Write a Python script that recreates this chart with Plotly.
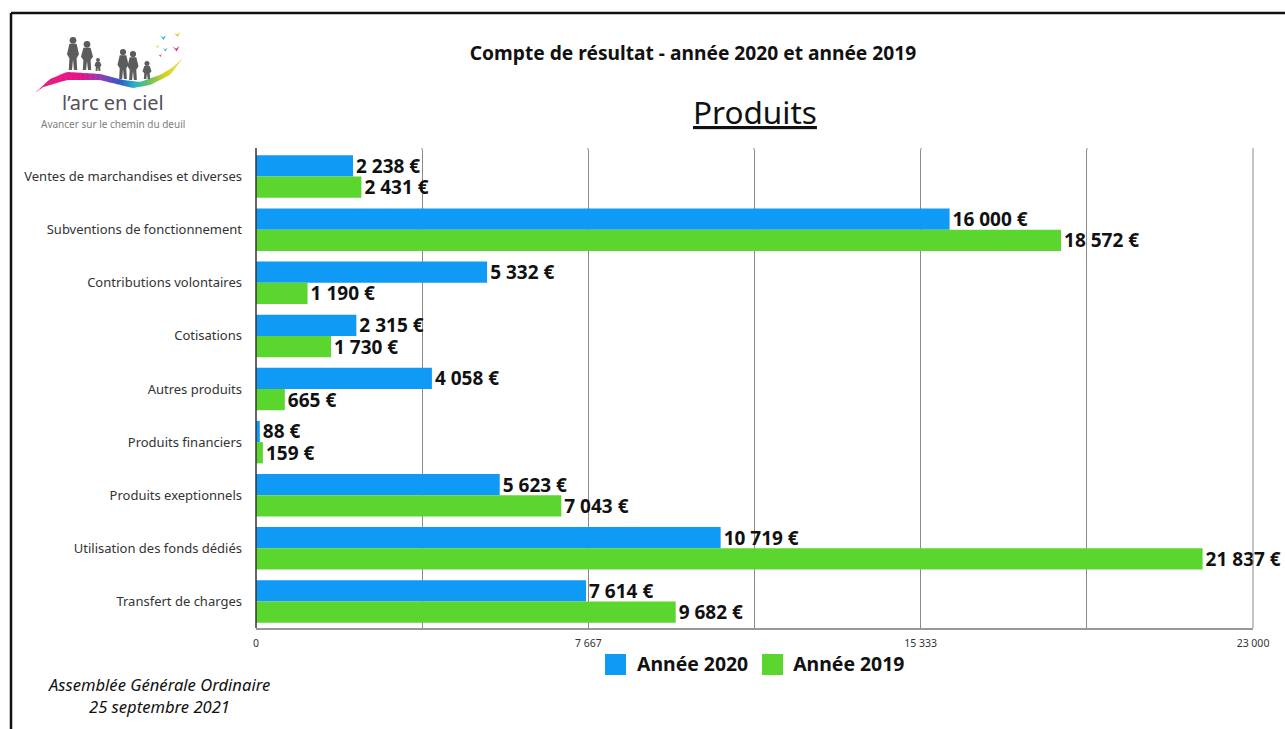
import numpy as np
import plotly.graph_objects as go

W, H = 1285, 729
L, R, T, B = 256, 1253, 150, 628

categories = ["Ventes de marchandises et diverses", "Subventions de fonctionnement",
              "Contributions volontaires", "Cotisations", "Autres produits",
              "Produits financiers", "Produits exeptionnels",
              "Utilisation des fonds dédiés", "Transfert de charges"]
values_2020 = [2238, 16000, 5332, 2315, 4058, 88, 5623, 10719, 7614]
values_2019 = [2431, 18572, 1190, 1730, 665, 159, 7043, 21837, 9682]
major_ticks = [0, 7667, 15333, 23000]
major_labels = ["0", "7 667", "15 333", "23 000"]
minor_ticks = [3833, 11500, 19167]

FONT = "Noto Sans"
INK = "#111111"
BLUE = "#0f9af5"
GREEN = "#5bd62f"
GRID = "#8a8a8a"


def euro(v):
    return f"{v:,}".replace(",", " ") + " €"


def px(x):
    return (x - L) / (R - L)


def py(y):
    return (B - y) / (B - T)


def bars(name, vals, color):
    return go.Bar(name=name, y=categories, x=vals, orientation="h",
                  marker=dict(color=color, line_width=0),
                  text=[euro(v) for v in vals], textposition="outside",
                  cliponaxis=False, constraintext="none",
                  textfont=dict(family=FONT, size=19, color=INK, weight="bold"))


fig = go.Figure([bars("Année 2020", values_2020, BLUE),
                 bars("Année 2019", values_2019, GREEN)])


def line(x0, y0, x1, y1, color="#111111", width=2):
    return dict(type="line", xref="paper", yref="paper", x0=px(x0), y0=py(y0),
                x1=px(x1), y1=py(y1), line=dict(color=color, width=width))


def rect(x0, y0, x1, y1, color):
    return dict(type="rect", xref="paper", yref="paper", x0=px(x0), y0=py(y0),
                x1=px(x1), y1=py(y1), fillcolor=color, line_width=0)


def poly(points, color):
    d = "M" + " L".join(f"{px(a)},{py(b)}" for a, b in points) + " Z"
    return dict(type="path", xref="paper", yref="paper", path=d, fillcolor=color, line_width=0)


# Logo: ribbon outline (decoration, not chart data)
upper_x = [35, 50, 67, 100, 123, 140, 160, 172, 183]
upper_y = [93, 79, 72, 74, 80, 82, 75, 68, 58]
lower_x = [35, 43, 67, 100, 133, 150, 170, 183]
lower_y = [93, 87, 80, 80, 88, 85, 75, 58]
stop_x = [35, 80, 100, 120, 135, 150, 165, 183]
stop_rgb = [(232, 30, 130), (232, 20, 135), (150, 60, 180), (50, 90, 200),
            (40, 180, 200), (110, 195, 90), (215, 210, 30), (235, 225, 90)]

shapes = [
    line(11, 13, 1285, 13, width=2.5),
    line(11, 13, 11, 729, width=2.5),
    line(L, 148, L, B, color="#333333", width=1.5),
    line(R, 148, R, B, color=GRID, width=1),
    line(422, 148, 422, T, color=GRID, width=1),
    line(588, 148, 588, T, color=GRID, width=1),
    line(754, 148, 754, T, color=GRID, width=1),
    line(921, 148, 921, T, color=GRID, width=1),
    line(1087, 148, 1087, T, color=GRID, width=1),
    rect(605, 654, 626, 675, BLUE),
    rect(762, 654, 783, 675, GREEN),
]

edges = np.linspace(35, 183, 60)
for a, b in zip(edges[:-1], edges[1:]):
    b2 = b + 0.6
    m = (a + b) / 2
    rgb = [int(np.interp(m, stop_x, [c[i] for c in stop_rgb])) for i in range(3)]
    shapes.append(poly([(a, np.interp(a, upper_x, upper_y)), (b2, np.interp(b2, upper_x, upper_y)),
                        (b2, np.interp(b2, lower_x, lower_y)), (a, np.interp(a, lower_x, lower_y))],
                       f"rgb({rgb[0]},{rgb[1]},{rgb[2]})"))


def person(x, top, foot, w, color="#5c5c5c"):
    r = w * 0.28
    head = dict(type="circle", xref="paper", yref="paper", fillcolor=color, line_width=0,
                x0=px(x - r), x1=px(x + r), y0=py(top), y1=py(top + 2 * r))
    neck = top + 2 * r
    h = foot - neck
    body = poly([(x - w * 0.3, neck), (x + w * 0.3, neck), (x + w * 0.5, neck + h * 0.4),
                 (x + w * 0.3, neck + h * 0.55), (x + w * 0.35, foot), (x + w * 0.08, foot),
                 (x, neck + h * 0.6), (x - w * 0.08, foot), (x - w * 0.35, foot),
                 (x - w * 0.3, neck + h * 0.55), (x - w * 0.5, neck + h * 0.4)], color)
    return [head, body]


for xp, top, foot, w in [(73, 37, 70, 12), (87, 41, 70, 12), (98, 58, 71, 7),
                         (123, 49, 79, 11), (133, 51, 80, 11), (147, 61, 79, 9)]:
    shapes += person(xp, top, foot, w)
for xb, yb, c, s in [(163, 37, "#35b0d8", 3), (177, 34, "#d8d020", 3), (176, 48, "#d8309a", 3.5),
                     (165, 49, "#35b0d8", 2.5), (157, 46, "#d8d020", 2), (160, 55, "#d8309a", 2)]:
    shapes.append(poly([(xb - s, yb - s * 0.5), (xb, yb + s * 0.2), (xb + s, yb - s * 0.6),
                        (xb + s * 0.2, yb + s)], c))


def note(text, x, y, size, color=INK, anchor="center", **kw):
    return dict(text=text, xref="paper", yref="paper", x=px(x), y=py(y), showarrow=False,
                xanchor=anchor, yanchor="middle",
                font=dict(family=FONT, size=size, color=color, **kw))


annotations = [
    note("<u>Produits</u>", 755, 112, 31.5),
    note("l’arc en ciel", 113, 103, 20, color="#55505a"),
    note("Avancer sur le chemin du deuil", 113, 124, 10, color="#808080"),
    note("Assemblée Générale Ordinaire", 159, 684, 16.6, style="italic"),
    note("25 septembre 2021", 159, 706, 16.6, style="italic"),
]

fig.update_layout(
    width=W, height=H, autosize=False,
    margin=dict(l=L, r=W - R, t=T, b=H - B, pad=0),
    paper_bgcolor="white", plot_bgcolor="white",
    barmode="group", bargap=0.2, bargroupgap=0,
    title=dict(text="Compte de résultat - année 2020 et année 2019", x=693 / W, xanchor="center",
               y=1 - 53 / H, yanchor="middle",
               font=dict(family=FONT, size=19.2, color=INK, weight="bold")),
    legend=dict(orientation="h", x=px(753.5), xanchor="center", y=py(664), yanchor="middle",
                font=dict(family=FONT, size=19.4, color=INK, weight="bold"),
                bgcolor="rgba(0,0,0,0)", traceorder="normal"),
    xaxis=dict(range=[0, 23000], tickvals=major_ticks, ticktext=major_labels,
               showgrid=True, gridcolor=GRID, gridwidth=1, zeroline=False,
               showline=True, linecolor="#999999", linewidth=2,
               ticks="", ticklabelstandoff=4,
               tickfont=dict(family=FONT, size=10.5, color="#333333"),
               minor=dict(tickvals=minor_ticks, showgrid=True, gridcolor=GRID, gridwidth=1)),
    yaxis=dict(autorange="reversed", showgrid=False, zeroline=False, ticks="",
               ticklabelstandoff=13,
               tickfont=dict(family=FONT, size=13, color="#333333")),
    shapes=shapes, annotations=annotations,
)

fig.write_html("out.html", config=dict(displayModeBar=False),
               post_script="document.body.style.margin='0';")
